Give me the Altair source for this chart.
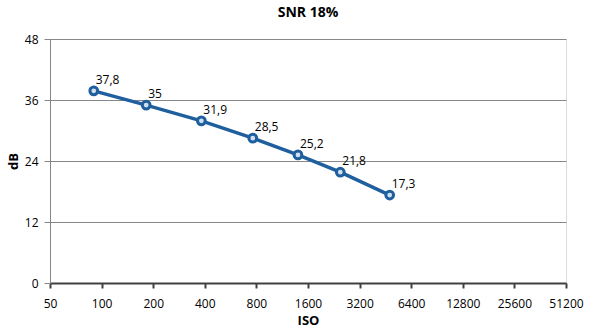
import altair as alt
import pandas as pd

iso = [90, 182, 382, 762, 1398, 2469, 4794]
snr = [37.8, 35.0, 31.9, 28.5, 25.2, 21.8, 17.3]
x_ticks = [50, 100, 200, 400, 800, 1600, 3200, 6400, 12800, 25600, 51200]
y_ticks = [0, 12, 24, 36, 48]

labels = [f"{v:g}".replace(".", ",") for v in snr]
df = pd.DataFrame({"iso": iso, "snr": snr, "label": labels})

blue = "#1f5f9e"
font = "Open Sans"

x = alt.X("iso:Q",
          scale=alt.Scale(type="log", base=2, domain=[50, 51200], nice=False),
          axis=alt.Axis(values=x_ticks, format="d", title="ISO", grid=False,
                        domainColor="#404040", domainWidth=2,
                        tickColor="#404040", tickWidth=2, tickSize=5,
                        labelFlush=False, labelOverlap=False,
                        labelPadding=10, labelFontSize=12, labelColor="#000000",
                        titleFontSize=13, titleFontWeight="bold", titlePadding=5,
                        titleColor="#000000", labelFont=font, titleFont=font))
y = alt.Y("snr:Q",
          scale=alt.Scale(domain=[0, 48], nice=False),
          axis=alt.Axis(values=y_ticks, title="dB", grid=True, gridColor="#878787",
                        gridWidth=1, domainColor="#878787", tickColor="#878787",
                        tickSize=6, labelPadding=6, labelFontSize=12, labelColor="#000000",
                        labelFlush=False,
                        titleFontSize=13, titleFontWeight="bold", titlePadding=4,
                        titleColor="#000000", labelFont=font, titleFont=font))

base = alt.Chart(df)
line = base.mark_line(color=blue, strokeWidth=3.5).encode(x=x, y=y)
pts = base.mark_point(shape="circle", size=60, color=blue, strokeWidth=3,
                      fill="#d0e0f0", filled=False, opacity=1).encode(x="iso:Q", y="snr:Q")
txt = base.mark_text(align="left", baseline="middle", dx=2, dy=-11, fontSize=12,
                     font=font, color="#000000").encode(x="iso:Q", y="snr:Q", text="label:N")

chart = (line + pts + txt).properties(
    width=516, height=244,
    title=alt.TitleParams("SNR 18%", fontSize=14, fontWeight="bold", font=font,
                          anchor="middle", frame="group", offset=13, color="#000000"),
    autosize=alt.AutoSizeParams(type="none"),
    padding={"left": 50, "top": 39, "right": 25, "bottom": 51},
).configure_view(stroke=None).configure(background="white")

chart.save("out.html", embed_options={"renderer": "svg", "actions": False})
